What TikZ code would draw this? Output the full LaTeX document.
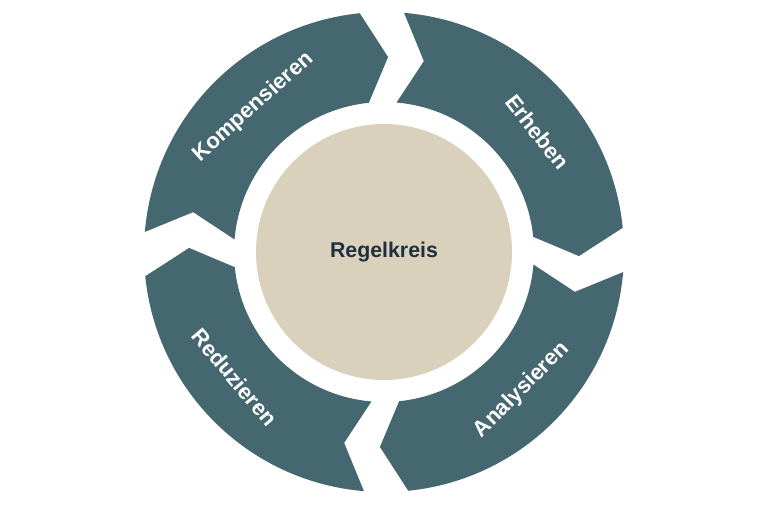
\documentclass[tikz,border=0pt]{standalone}
\usepackage{fontspec}
\setmainfont{Liberation Sans}
\definecolor{ring}{HTML}{456770}
\definecolor{core}{HTML}{D9D1BB}
\definecolor{navy}{HTML}{1E2F40}
\begin{document}
\begin{tikzpicture}[x=0.75pt,y=0.75pt,
  seg/.style={fill=ring,draw=none},
  lbl/.style={text=white,font=\fontsize{16.5}{19}\selectfont\bfseries}]
\useasboundingbox (0,0) rectangle (767,511);
\def\R{240}\def\r{150}\def\Rm{195}\def\d{1.8}\def\c{7}
\newcommand{\arrowseg}[2]{%
  \fill[seg] ({#1-\d}:\R) arc[start angle={#1-\d},end angle={#2+\d+\c},radius=\R]
    -- ({#2+\d}:\Rm) -- ({#2+\d+\c}:\r)
    arc[start angle={#2+\d+\c},end angle={#1-\d},radius=\r]
    -- ({#1-\d-\c}:\Rm) -- cycle;}
\begin{scope}[shift={(384,259)}]
\arrowseg{177}{87}
\arrowseg{87}{-3}
\arrowseg{-3}{-93}
\arrowseg{-93}{-183}
\node[circle,fill=core,minimum size=256*0.75pt,inner sep=0] (c) at (0,0) {};
\node[text=navy,font=\fontsize{16}{19}\selectfont\bfseries] (t) at (c) {Regelkreis};
\node[lbl,rotate=42] (k) at (132:\Rm) {Kompensieren};
\node[lbl,rotate=-52] (e) at (38:\Rm) {Erheben};
\node[lbl,rotate=45] (a) at (-45:\Rm) {Analysieren};
\node[lbl,rotate=-50] (r) at (-140:\Rm) {Reduzieren};
\end{scope}
\end{tikzpicture}
\end{document}
